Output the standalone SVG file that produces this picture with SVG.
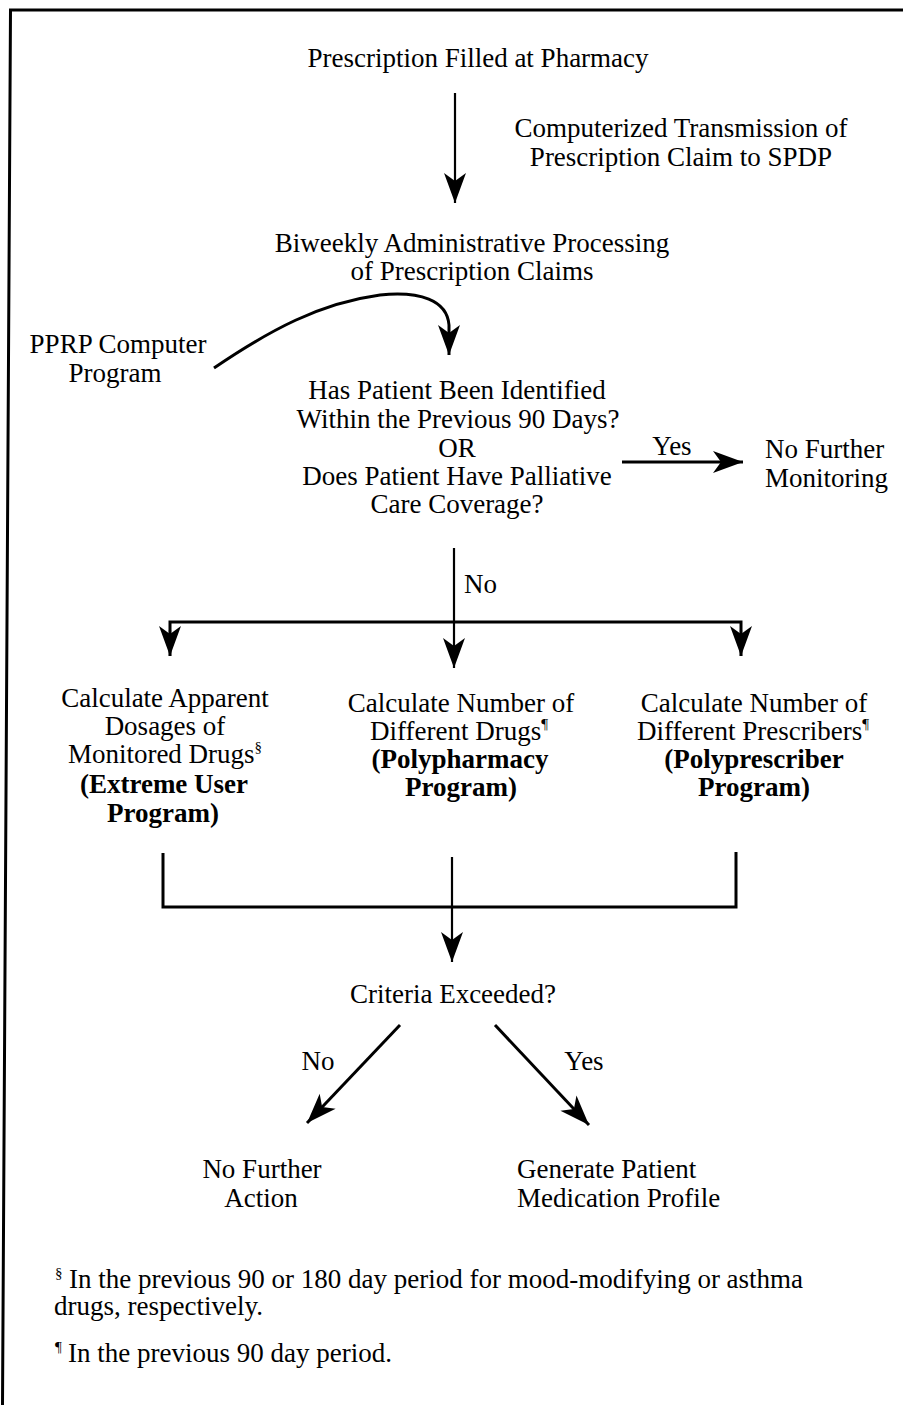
<svg xmlns="http://www.w3.org/2000/svg" width="903" height="1405" viewBox="0 0 903 1405">
  <style>
    text { font-family: "Liberation Serif", "Times New Roman", serif; font-size: 27px; fill: #000; }
    .c { text-anchor: middle; }
    .b { font-weight: bold; }
    .sup { font-size: 15px; }
    .ln { fill: none; stroke: #000; stroke-width: 2.2; }
    .thick { stroke-width: 3; }
  </style>
  <defs>
    <marker id="ah" markerUnits="userSpaceOnUse" markerWidth="32" markerHeight="24" refX="30" refY="12" orient="auto" overflow="visible">
      <path d="M0,1 L30,12 L0,23 L8,12 Z" fill="#000"/>
    </marker>
  </defs>
  <rect width="903" height="1405" fill="#fff"/>
  <path id="frame" d="M903,10 L10.5,10 L2.5,1405" fill="none" stroke="#000" stroke-width="3"/>

  <g id="connectors">
    <line class="ln" x1="455" y1="93" x2="455" y2="203" marker-end="url(#ah)"/>
    <path class="ln thick" d="M214,368 C270,330 320,303 380,295 C420,291 447,300 449,325 L449,355" marker-end="url(#ah)"/>
    <line class="ln thick" x1="622" y1="462" x2="743" y2="462" marker-end="url(#ah)"/>
    <line class="ln" x1="454" y1="548" x2="454" y2="668" marker-end="url(#ah)"/>
    <polyline class="ln thick" points="170,656 170,622 741,622 741,656"/>
    <line class="ln" x1="170" y1="630" x2="170" y2="656" marker-end="url(#ah)"/>
    <line class="ln" x1="741" y1="630" x2="741" y2="656" marker-end="url(#ah)"/>
    <polyline class="ln thick" points="163,853 163,907 736,907 736,852"/>
    <line class="ln" x1="452" y1="857" x2="452" y2="962" marker-end="url(#ah)"/>
    <line class="ln thick" x1="400" y1="1025" x2="307" y2="1123" marker-end="url(#ah)"/>
    <line class="ln thick" x1="495" y1="1025" x2="589" y2="1125" marker-end="url(#ah)"/>
    <text x="672" y="455" class="c">Yes</text>
    <text x="464" y="593">No</text>
    <text x="318" y="1070" class="c">No</text>
    <text x="584" y="1070" class="c">Yes</text>
  </g>

  <g id="n-prescription">
    <text x="478" y="67" class="c">Prescription Filled at Pharmacy</text>
  </g>
  <g id="n-transmission">
    <text x="681" y="137" class="c">Computerized Transmission of</text>
    <text x="681" y="166" class="c">Prescription Claim to SPDP</text>
  </g>
  <g id="n-biweekly">
    <text x="472" y="252" class="c">Biweekly Administrative Processing</text>
    <text x="472" y="280" class="c">of Prescription Claims</text>
  </g>
  <g id="n-pprp">
    <text x="118" y="353" class="c">PPRP Computer</text>
    <text x="115" y="382" class="c">Program</text>
  </g>
  <g id="n-decision1">
    <text x="457" y="399" class="c">Has Patient Been Identified</text>
    <text x="458" y="428" class="c">Within the Previous 90 Days?</text>
    <text x="457" y="457" class="c">OR</text>
    <text x="457" y="485" class="c">Does Patient Have Palliative</text>
    <text x="457" y="513" class="c">Care Coverage?</text>
  </g>
  <g id="n-nomonitor">
    <text x="765" y="458">No Further</text>
    <text x="765" y="487">Monitoring</text>
  </g>
  <g id="n-extreme">
    <text x="165" y="707" class="c">Calculate Apparent</text>
    <text x="165" y="735" class="c">Dosages of</text>
    <text x="165" y="763" class="c">Monitored Drugs<tspan class="sup" dy="-11">§</tspan></text>
    <text x="164" y="793" class="c b">(Extreme User</text>
    <text x="163" y="822" class="c b">Program)</text>
  </g>
  <g id="n-polypharmacy">
    <text x="461" y="712" class="c">Calculate Number of</text>
    <text x="459" y="740" class="c">Different Drugs<tspan class="sup" dy="-11">¶</tspan></text>
    <text x="460" y="768" class="c b">(Polypharmacy</text>
    <text x="461" y="796" class="c b">Program)</text>
  </g>
  <g id="n-polyprescriber">
    <text x="754" y="712" class="c">Calculate Number of</text>
    <text x="753" y="740" class="c">Different Prescribers<tspan class="sup" dy="-11">¶</tspan></text>
    <text x="754" y="768" class="c b">(Polyprescriber</text>
    <text x="754" y="796" class="c b">Program)</text>
  </g>
  <g id="n-criteria">
    <text x="453" y="1003" class="c">Criteria Exceeded?</text>
  </g>
  <g id="n-noaction">
    <text x="262" y="1178" class="c">No Further</text>
    <text x="261" y="1207" class="c">Action</text>
  </g>
  <g id="n-profile">
    <text x="517" y="1178">Generate Patient</text>
    <text x="517" y="1207">Medication Profile</text>
  </g>
  <g id="footnotes">
    <text x="55" y="1288"><tspan class="sup" dy="-10">§</tspan><tspan x="69" dy="10">In the previous 90 or 180 day period for mood-modifying or asthma</tspan></text>
    <text x="54" y="1315">drugs, respectively.</text>
    <text x="55" y="1362"><tspan class="sup" dy="-10">¶</tspan><tspan x="68" dy="10">In the previous 90 day period.</tspan></text>
  </g>
</svg>
